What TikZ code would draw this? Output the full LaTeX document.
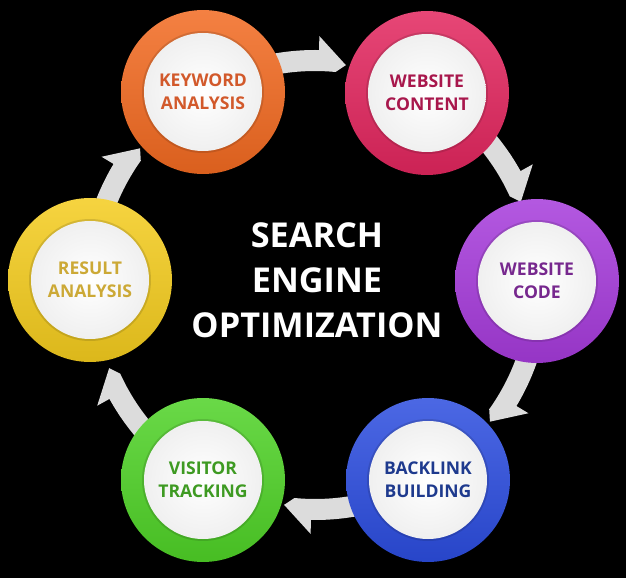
\documentclass[tikz,border=0pt]{standalone}
\usepackage{fontspec}
\setmainfont{Open Sans}
\usetikzlibrary{calc}

\definecolor{kwring}{HTML}{F26A21}
\definecolor{kwtext}{HTML}{D2592B}
\definecolor{wcring}{HTML}{E2265E}
\definecolor{wctext}{HTML}{A8174C}
\definecolor{cdring}{HTML}{A63BDB}
\definecolor{cdtext}{HTML}{77288E}
\definecolor{blring}{HTML}{2C4DDF}
\definecolor{bltext}{HTML}{1E3A8E}
\definecolor{vtring}{HTML}{4FD227}
\definecolor{vttext}{HTML}{3E9A22}
\definecolor{raring}{HTML}{F4CC1E}
\definecolor{ratext}{HTML}{CCA936}
\definecolor{bandgray}{HTML}{DCDCDC}

\begin{document}
\begin{tikzpicture}[
  x=0.02cm, y=0.02cm,
  stage/.style = {circle, minimum size=3.28cm, inner sep=0pt, align=center,
                  top color=#1!85!white, middle color=#1, bottom color=#1!90!black,
                  font=\bfseries\fontsize{10}{13}\selectfont,
                  path picture={
                    \fill[black, opacity=.12] (path picture bounding box.center) circle (61);
                    \shade[inner color=white, outer color=gray!12]
                      (path picture bounding box.center) circle (59);}},
  title/.style = {align=center, text=white, font=\bfseries\fontsize{19.5}{25.5}\selectfont},
  band/.style  = {fill=bandgray},
]

%── Background ────────────────────────────────────────────────────────────────
\fill[black] (-315,-293) rectangle (311,285);
\useasboundingbox (-315,-293) rectangle (311,285);

%── Ring arrows (hub at origin, band radius 214..235) ─────────────────────────
% keyword -> content
\fill[band] (105:214) arc[start angle=105, end angle=84.5, radius=214]
  -- (82:222) -- (89:249) -- (89:235)
  arc[start angle=89, end angle=105, radius=235] -- cycle;
% content -> code
\fill[band] (45:214) arc[start angle=45, end angle=24.5, radius=214]
  -- (22:222) -- (29:249) -- (29:235)
  arc[start angle=29, end angle=45, radius=235] -- cycle;
% code -> backlink
\fill[band] (-15:214) arc[start angle=-15, end angle=-35.5, radius=214]
  -- (-38:222) -- (-31:249) -- (-31:235)
  arc[start angle=-31, end angle=-15, radius=235] -- cycle;
% backlink -> visitor
\fill[band] (-75:214) arc[start angle=-75, end angle=-95.5, radius=214]
  -- (-98:222) -- (-91:249) -- (-91:235)
  arc[start angle=-91, end angle=-75, radius=235] -- cycle;
% visitor -> result
\fill[band] (-135:214) arc[start angle=-135, end angle=-155.5, radius=214]
  -- (-158:222) -- (-151:249) -- (-151:235)
  arc[start angle=-151, end angle=-135, radius=235] -- cycle;
% result -> keyword
\fill[band] (165:214) arc[start angle=165, end angle=144.5, radius=214]
  -- (142:222) -- (149:249) -- (149:235)
  arc[start angle=149, end angle=165, radius=235] -- cycle;

%── Stages ────────────────────────────────────────────────────────────────────
\node[stage=kwring, text=kwtext] (kw) at (-112, 193) {KEYWORD\\ANALYSIS};
\node[stage=wcring, text=wctext] (wc) at ( 112, 192) {WEBSITE\\CONTENT};
\node[stage=cdring, text=cdtext] (cd) at ( 222,   4) {WEBSITE\\CODE};
\node[stage=blring, text=bltext] (bl) at ( 113,-195) {BACKLINK\\BUILDING};
\node[stage=vtring, text=vttext] (vt) at (-112,-195) {VISITOR\\TRACKING};
\node[stage=raring, text=ratext] (ra) at (-225,   5) {RESULT\\ANALYSIS};

%── Centre title ──────────────────────────────────────────────────────────────
\node[title] (hub) at (2, 5) {SEARCH\\ENGINE\\OPTIMIZATION};

\end{tikzpicture}
\end{document}
